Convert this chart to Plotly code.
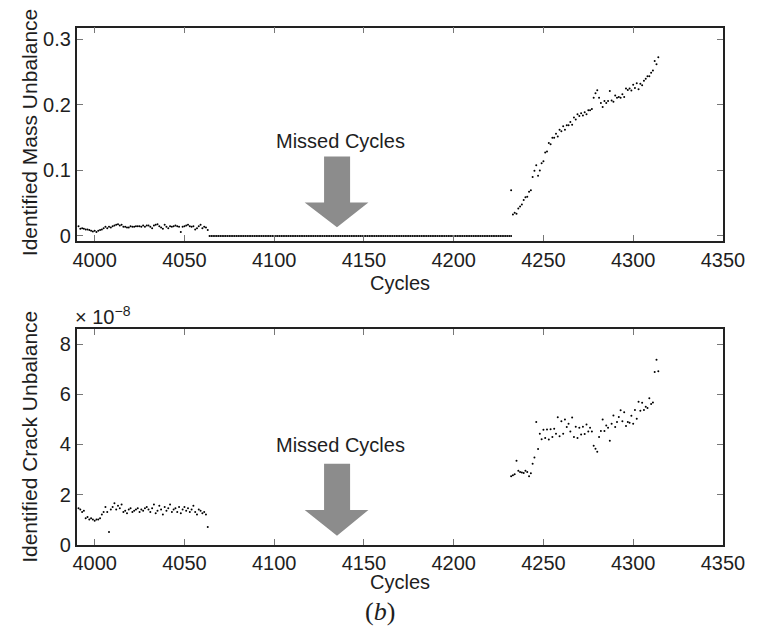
import numpy as np
import plotly.graph_objects as go

# ---------------- data ----------------
# Segment before the missed cycles (cycles 3991 .. 4063)
early_start = 3991
mass_early = [0.015, 0.011, 0.012, 0.011, 0.010, 0.010, 0.009, 0.008, 0.007, 0.008,
              0.006, 0.008, 0.009, 0.010, 0.012, 0.014, 0.012, 0.014, 0.013, 0.015,
              0.016, 0.017, 0.018, 0.016, 0.017, 0.014, 0.014, 0.013, 0.013, 0.015,
              0.014, 0.014, 0.015, 0.015, 0.015, 0.014, 0.016, 0.014, 0.016, 0.016,
              0.014, 0.012, 0.016, 0.017, 0.018, 0.015, 0.013, 0.011, 0.017, 0.014,
              0.012, 0.015, 0.014, 0.015, 0.016, 0.015, 0.014, 0.006, 0.014, 0.015,
              0.016, 0.017, 0.015, 0.014, 0.015, 0.010, 0.012, 0.015, 0.017, 0.012,
              0.014, 0.013, 0.009]
crack_early = [1.45, 1.40, 1.30, 1.35, 1.05, 1.10, 1.00, 1.05, 1.00, 0.95,
               1.00, 1.00, 1.05, 1.20, 1.30, 1.50, 1.30, 0.50, 1.40, 1.50,
               1.65, 1.40, 1.55, 1.45, 1.60, 1.30, 1.35, 1.25, 1.40, 1.45,
               1.30, 1.35, 1.40, 1.45, 1.30, 1.40, 1.35, 1.45, 1.50, 1.40,
               1.30, 1.45, 1.60, 1.25, 1.35, 1.55, 1.40, 1.20, 1.50, 1.35,
               1.45, 1.60, 1.30, 1.40, 1.45, 1.30, 1.50, 1.25, 1.40, 1.50,
               1.35, 1.45, 1.30, 1.40, 1.55, 1.30, 1.20, 1.40, 1.35, 1.25,
               1.30, 1.20, 0.70]   # units of 1e-8

# Missed cycles (identified as zero in the mass plot)
missed_start, missed_end = 4064, 4232
mass_missed_value = 0.0

# Segment after the missed cycles (cycles 4232 .. 4314)
late_start = 4232
mass_late = [0.070, 0.033, 0.0355, 0.034, 0.042, 0.045, 0.048, 0.055, 0.059, 0.060,
             0.0675, 0.070, 0.090, 0.0995, 0.108, 0.092, 0.100, 0.111, 0.114, 0.1275,
             0.129, 0.142, 0.140, 0.150, 0.150, 0.156, 0.152, 0.162, 0.160, 0.1675,
             0.162, 0.169, 0.169, 0.174, 0.170, 0.181, 0.178, 0.186, 0.183, 0.1875,
             0.184, 0.189, 0.186, 0.192, 0.192, 0.194, 0.211, 0.218, 0.2225, 0.211,
             0.203, 0.197, 0.206, 0.203, 0.206, 0.2215, 0.207, 0.205, 0.2145, 0.211,
             0.212, 0.211, 0.2165, 0.212, 0.225, 0.223, 0.225, 0.222, 0.231, 0.226,
             0.233, 0.224, 0.2325, 0.230, 0.237, 0.240, 0.244, 0.244, 0.249, 0.2525,
             0.267, 0.262, 0.273]
crack_late = [2.73, 2.77, 2.81, 3.35, 2.95, 2.90, 2.88, 2.86, 2.95, 2.90,
              2.73, 2.85, 3.23, 3.48, 4.90, 3.82, 4.43, 4.21, 4.59, 4.26,
              4.60, 4.20, 4.61, 4.30, 4.63, 4.43, 5.09, 4.33, 4.93, 4.43,
              5.00, 4.70, 4.83, 4.52, 5.08, 4.30, 4.71, 4.26, 4.67, 4.40,
              4.71, 4.42, 4.80, 4.52, 4.67, 4.52, 3.95, 3.83, 3.71, 4.30,
              4.54, 5.00, 4.54, 4.76, 4.67, 4.15, 4.83, 5.16, 4.70, 4.90,
              5.10, 5.37, 4.93, 5.29, 4.74, 4.90, 4.87, 5.15, 4.83, 5.38,
              5.03, 5.71, 5.35, 5.67, 5.38, 5.51, 5.46, 5.85, 5.62, 5.68,
              6.90, 7.39, 6.93]   # units of 1e-8

x_ticks = [4000, 4050, 4100, 4150, 4200, 4250, 4300, 4350]
mass_ticks = [0, 0.1, 0.2, 0.3]
mass_tick_labels = ["0", "0.1", "0.2", "0.3"]
crack_ticks = [0, 2, 4, 6, 8]
crack_tick_labels = ["0", "2", "4", "6", "8"]

# ---------------- build ----------------
cyc_early = np.arange(early_start, early_start + len(mass_early))
cyc_missed = np.arange(missed_start, missed_end + 1)
mass_missed = np.full(len(cyc_missed), mass_missed_value)
cyc_late = np.arange(late_start, late_start + len(mass_late))

mass_x = np.concatenate([cyc_early, cyc_missed, cyc_late])
mass_y = np.concatenate([mass_early, mass_missed, mass_late])
crack_x = np.concatenate([cyc_early, cyc_late])
crack_y = np.concatenate([crack_early, crack_late])

FONT = "Liberation Sans, Arial, Helvetica, sans-serif"
FS = 20
TXT = "#1e1e1e"
fig = go.Figure()
mk = dict(color="black", size=2.0)
fig.add_trace(go.Scatter(x=mass_x, y=mass_y, mode="markers", marker=mk,
                         xaxis="x", yaxis="y", showlegend=False, hoverinfo="x+y"))
fig.add_trace(go.Scatter(x=crack_x, y=crack_y, mode="markers", marker=mk,
                         xaxis="x2", yaxis="y2", showlegend=False, hoverinfo="x+y"))

W, H = 763, 638
L, R = 67, 736
dom_x = [L / W, R / W]
top_dom = [1 - 237 / H, 1 - 20 / H]
bot_dom = [1 - 546 / H, 1 - 327 / H]

axis_common = dict(showline=True, linecolor="#222222", linewidth=1.6, mirror="allticks",
                   ticks="inside", ticklen=6, tickcolor="#777777", tickwidth=1,
                   showgrid=False, zeroline=False,
                   tickfont=dict(family=FONT, size=FS, color=TXT))

fig.update_layout(
    width=W, height=H,
    margin=dict(l=0, r=0, t=0, b=0),
    paper_bgcolor="white", plot_bgcolor="white",
    xaxis=dict(domain=dom_x, range=[3990, 4350], tickvals=x_ticks, anchor="y", **axis_common),
    yaxis=dict(domain=top_dom, range=[-0.0075, 0.318], tickvals=mass_ticks,
               ticktext=mass_tick_labels, anchor="x", **axis_common),
    xaxis2=dict(domain=dom_x, range=[3990, 4350], tickvals=x_ticks, anchor="y2", **axis_common),
    yaxis2=dict(domain=bot_dom, range=[0, 8.6], tickvals=crack_ticks,
                ticktext=crack_tick_labels, anchor="x2", **axis_common),
)

ann_font = dict(family=FONT, size=FS, color=TXT)
anns = [
    dict(text="Cycles", x=401.5 / W, y=1 - 280 / H, xref="paper", yref="paper",
         showarrow=False, font=ann_font, xanchor="center", yanchor="middle"),
    dict(text="Cycles", x=401.5 / W, y=1 - 584 / H, xref="paper", yref="paper",
         showarrow=False, font=ann_font, xanchor="center", yanchor="middle"),
    dict(text="Identified Mass Unbalance", x=18 / W, y=1 - 127 / H, xref="paper", yref="paper",
         showarrow=False, font=dict(family=FONT, size=21, color=TXT), textangle=-90,
         xanchor="center", yanchor="middle"),
    dict(text="Identified Crack Unbalance", x=18 / W, y=1 - 436 / H, xref="paper", yref="paper",
         showarrow=False, font=dict(family=FONT, size=21, color=TXT), textangle=-90,
         xanchor="center", yanchor="middle"),
    dict(text="× 10<sup>−8</sup>", x=63 / W, y=1 - 313 / H, xref="paper", yref="paper",
         showarrow=False, font=ann_font, xanchor="left", yanchor="middle"),
    dict(text="Missed Cycles", x=4137, y=0.145, xref="x", yref="y",
         showarrow=False, font=ann_font, xanchor="center", yanchor="middle"),
    dict(text="Missed Cycles", x=4137, y=3.98, xref="x2", yref="y2",
         showarrow=False, font=ann_font, xanchor="center", yanchor="middle"),
    dict(text="(<i>b</i>)", x=381 / W, y=1 - 614 / H, xref="paper", yref="paper",
         showarrow=False, font=dict(family="Liberation Serif, Times New Roman, serif",
                                    size=26, color=TXT),
         xanchor="center", yanchor="middle"),
]
fig.update_layout(annotations=anns)

def arrow_path(xs0, xs1, xh0, xh1, xt, ytop, yshaft, ytip):
    return (f"M {xs0} {ytop} L {xs1} {ytop} L {xs1} {yshaft} L {xh1} {yshaft} "
            f"L {xt} {ytip} L {xh0} {yshaft} L {xs0} {yshaft} Z")

fig.add_shape(type="path", xref="x", yref="y",
              path=arrow_path(4127.8, 4142.3, 4117, 4152.5, 4135, 0.1214, 0.051, 0.0135),
              fillcolor="#8c8c8c", line=dict(width=0))
fig.add_shape(type="path", xref="x2", yref="y2",
              path=arrow_path(4127.8, 4142.3, 4117, 4152.5, 4135, 3.23, 1.38, 0.35),
              fillcolor="#8c8c8c", line=dict(width=0))

fig.write_html("out.html")
